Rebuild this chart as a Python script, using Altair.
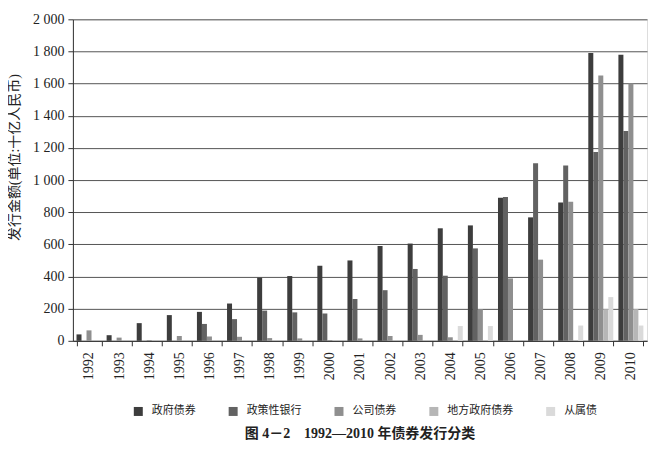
import altair as alt
import pandas as pd

years = [str(y) for y in range(1992, 2011)]
series = ["政府债券", "政策性银行", "公司债券", "地方政府债券", "从属债"]

gov = [40, 35, 110, 160, 180, 232, 393, 403, 467, 500, 590, 605, 700, 718, 890, 768, 860, 1790, 1780]
policy = [0, 0, 0, 0, 105, 135, 188, 177, 170, 260, 315, 447, 405, 575, 895, 1105, 1090, 1175, 1305]
corp = [65, 20, 5, 30, 27, 25, 17, 15, 5, 15, 30, 37, 22, 197, 388, 505, 865, 1650, 1600]
local = [0, 0, 0, 0, 0, 0, 0, 0, 0, 0, 0, 0, 0, 0, 0, 0, 0, 197, 197]
sub = [0, 0, 0, 0, 0, 0, 0, 0, 0, 0, 0, 0, 92, 92, 0, 0, 95, 272, 95]

colors = ["#3d3d3d", "#626262", "#8f8f8f", "#b6b6b6", "#dadada"]
y_ticks = list(range(0, 2001, 200))

rows = []
for name, vals in zip(series, [gov, policy, corp, local, sub]):
    for yr, v in zip(years, vals):
        rows.append({"year": yr, "series": name, "value": v})
df = pd.DataFrame(rows)

FONT = "'Liberation Serif', 'Times New Roman', 'Noto Sans CJK SC', serif"

chart = alt.Chart(df).mark_bar().encode(
    x=alt.X(
        "year:N",
        sort=years,
        title=None,
        scale=alt.Scale(paddingInner=0.17, paddingOuter=0.12),
        axis=alt.Axis(
            labelAngle=270,
            labelAlign="right",
            labelBaseline="middle",
            tickBand="extent",
            labelFont=FONT,
            labelFontSize=14,
            labelColor="#222",
            labelPadding=6,
            domainColor="#333",
            tickColor="#333",
            tickSize=5,
            grid=False,
        ),
    ),
    xOffset=alt.XOffset("series:N", sort=series),
    y=alt.Y(
        "value:Q",
        scale=alt.Scale(domain=[0, 2000], nice=False),
        axis=alt.Axis(
            values=y_ticks,
            labelExpr="replace(format(datum.value, ','), ',', ' ')",
            title="发行金额(单位:十亿人民币)",
            titleFont=FONT,
            titleFontSize=14,
            titleFontWeight="normal",
            titleColor="#222",
            titleX=-58,
            titleY=138,
            titleAngle=270,
            titleAlign="center",
            titleBaseline="middle",
            labelFont=FONT,
            labelFontSize=14,
            labelColor="#222",
            labelPadding=4,
            tickSize=5,
            tickColor="#333",
            domainColor="#333",
            gridColor="#555",
            gridWidth=1,
        ),
    ),
    color=alt.Color(
        "series:N",
        sort=series,
        scale=alt.Scale(domain=series, range=colors),
        legend=alt.Legend(
            title=None,
            orient="none",
            legendX=60,
            legendY=387,
            direction="horizontal",
            symbolType="square",
            symbolSize=81,
            symbolStrokeWidth=0,
            labelFont=FONT,
            labelFontSize=11,
            labelColor="#222",
            labelOffset=8,
            columnPadding=32,
        ),
    ),
).properties(
    width=575,
    height=322,
    padding={"left": 0, "top": 4, "right": 5, "bottom": 0},
    title=alt.TitleParams(
        "图 4－2\u30001992—2010 年债券发行分类",
        orient="bottom",
        anchor="middle",
        font=FONT,
        fontSize=14,
        fontWeight="bold",
        color="#222",
        offset=10,
    ),
).configure_view(
    stroke=None
).configure_axis(
    labelFont=FONT, titleFont=FONT
).configure_legend(
    labelFont=FONT
).configure(font=FONT)

chart.save("out.html", embed_options={"renderer": "svg", "actions": False})
